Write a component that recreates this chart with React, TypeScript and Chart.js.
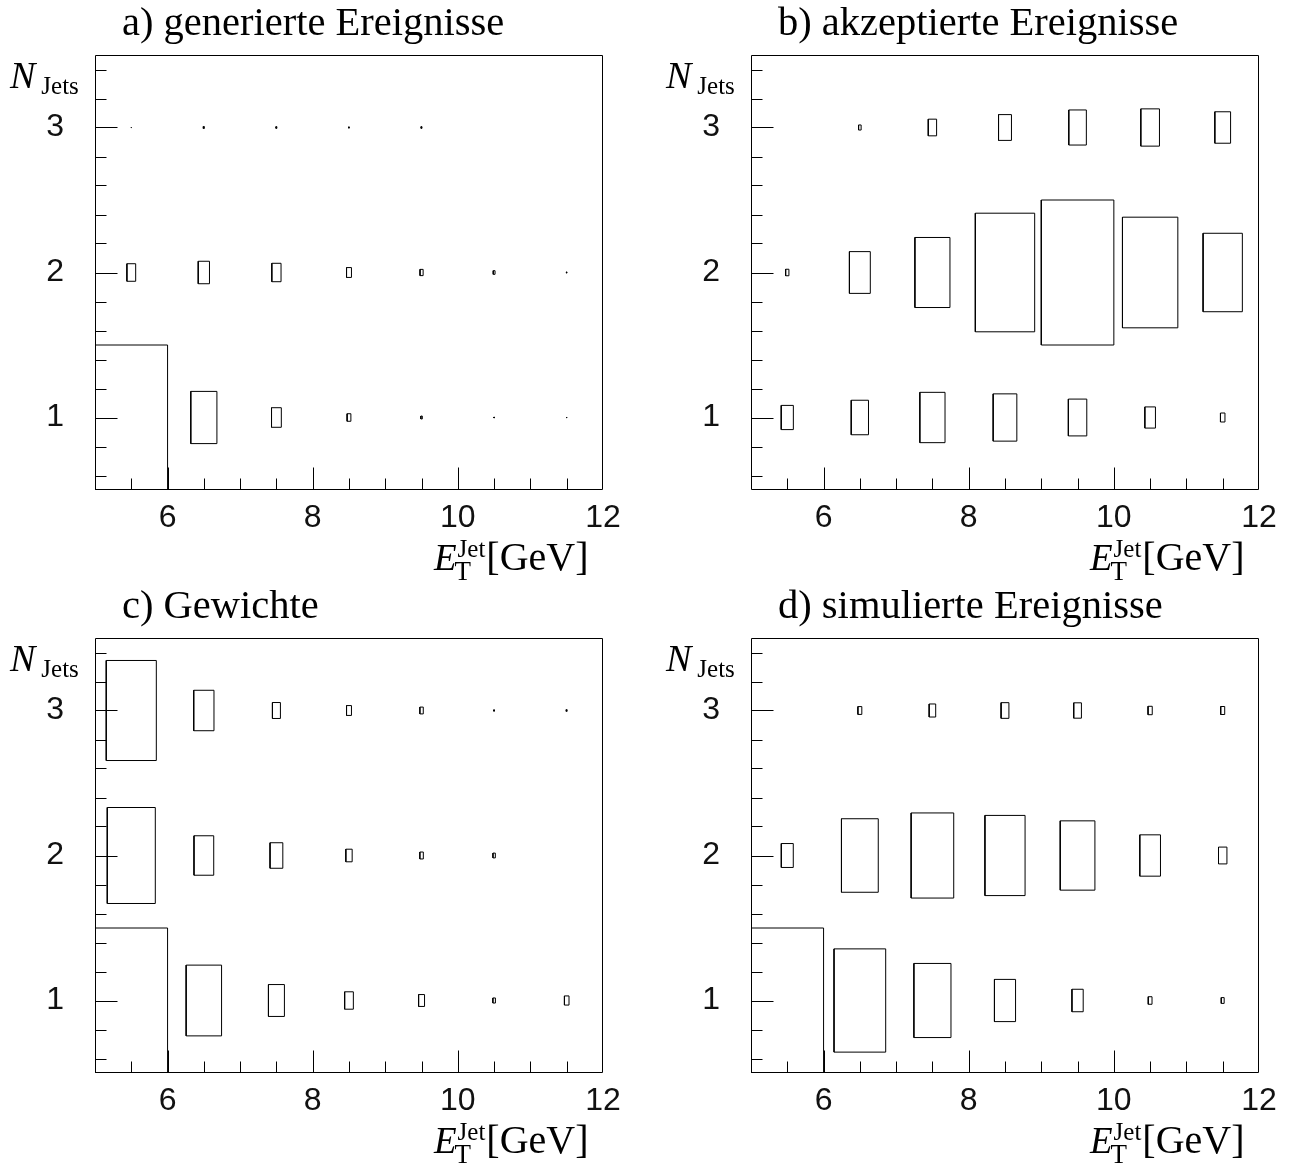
import React, { useEffect, useRef } from "react";
import { Chart, registerables } from "chart.js";

Chart.register(...registerables);

// bin centres
const xCenters = [5.5, 6.5, 7.5, 8.5, 9.5, 10.5, 11.5];
const nJets = [1, 2, 3];
const xMajorTicks = [6, 8, 10, 12];
const yMajorTicks = [1, 2, 3];

// relative box sizes (cell content / maximum) for N_Jets = 1, 2, 3
const genN1 = [1.0, 0.36, 0.135, 0.052, 0.02, 0.007, 0.007];
const genN2 = [0.121, 0.155, 0.127, 0.068, 0.043, 0.025, 0.008];
const genN3 = [0.005, 0.014, 0.012, 0.009, 0.012, 0, 0];

const accN1 = [0.167, 0.238, 0.347, 0.326, 0.254, 0.146, 0.062];
const accN2 = [0.045, 0.288, 0.483, 0.818, 1.0, 0.763, 0.541];
const accN3 = [0, 0.035, 0.115, 0.178, 0.242, 0.257, 0.217];

const wgtN1 = [1.0, 0.488, 0.22, 0.12, 0.082, 0.035, 0.063];
const wgtN2 = [0.662, 0.272, 0.176, 0.087, 0.048, 0.033, 0];
const wgtN3 = [0.69, 0.279, 0.11, 0.068, 0.047, 0.01, 0.012];

const simN1 = [1.0, 0.712, 0.511, 0.291, 0.155, 0.052, 0.04];
const simN2 = [0.165, 0.507, 0.587, 0.553, 0.478, 0.285, 0.116];
const simN3 = [0, 0.054, 0.09, 0.108, 0.106, 0.058, 0.055];

const titles = [
  "a) generierte Ereignisse",
  "b) akzeptierte Ereignisse",
  "c) Gewichte",
  "d) simulierte Ereignisse",
];

const CW = 635;
const CH = 582;
const SERIF = '"Liberation Serif", "Times New Roman", serif';
const SANS = '"Liberation Sans", Arial, sans-serif';

function buildDatasets(rows: number[][]) {
  const ds: any[] = [];
  rows.forEach((vals, ri) => {
    const cy = nJets[ri];
    vals.forEach((f, ci) => {
      if (f <= 0) return;
      const cx = xCenters[ci];
      const h = f / 2;
      ds.push({
        data: [
          { x: cx - h, y: cy - h },
          { x: cx + h, y: cy - h },
          { x: cx + h, y: cy + h },
          { x: cx - h, y: cy + h },
          { x: cx - h, y: cy - h },
        ],
        showLine: true,
        borderColor: "#000",
        borderWidth: 1,
        pointRadius: 0,
        pointHoverRadius: 0,
        fill: false,
        tension: 0,
      });
    });
  });
  return ds;
}

function makeFramePlugin(title: string) {
  return {
    id: "rootFrame",
    afterDraw(chart: any) {
      const ctx = chart.ctx as CanvasRenderingContext2D;
      const a = chart.chartArea;
      const xs = chart.scales.x;
      const ys = chart.scales.y;
      const L = Math.round(a.left) + 0.5;
      const R = Math.round(a.right) - 0.5;
      const T = Math.round(a.top) + 0.5;
      const B = Math.round(a.bottom) - 0.5;
      ctx.save();
      ctx.strokeStyle = "#000";
      ctx.lineWidth = 1;
      ctx.beginPath();
      ctx.rect(L, T, R - L, B - T);
      ctx.stroke();
      // y ticks (inward)
      ctx.beginPath();
      for (let k = 3; k <= 17; k++) {
        const v = k / 5;
        const major = yMajorTicks.some((m) => Math.abs(m - v) < 1e-6);
        const py = Math.round(ys.getPixelForValue(v)) + 0.5;
        ctx.moveTo(L, py);
        ctx.lineTo(L + (major ? 22 : 11), py);
      }
      // x ticks (inward)
      for (let k = 11; k <= 23; k++) {
        const v = k / 2;
        const major = xMajorTicks.some((m) => Math.abs(m - v) < 1e-6);
        const px = Math.round(xs.getPixelForValue(v)) + 0.5;
        ctx.moveTo(px, B);
        ctx.lineTo(px, B - (major ? 22 : 11));
      }
      ctx.stroke();

      ctx.fillStyle = "#000";
      ctx.textAlign = "left";
      ctx.textBaseline = "alphabetic";
      // panel title
      ctx.font = `40.5px ${SERIF}`;
      ctx.fillText(title, a.left + 27, 35);
      // N_Jets
      ctx.font = `italic 38px ${SERIF}`;
      ctx.fillText("N", 10, 88);
      const wN = ctx.measureText("N").width;
      ctx.font = `25px ${SERIF}`;
      ctx.fillText("Jets", 10 + wN + 6, 94);
      // E_T^Jet [GeV]
      const ex = 434;
      ctx.font = `italic 37px ${SERIF}`;
      ctx.fillText("E", ex, 570);
      const wE = ctx.measureText("E").width;
      const sx = ex + wE + 1;
      ctx.font = `25px ${SERIF}`;
      ctx.fillText("Jet", sx, 557);
      const wJ = ctx.measureText("Jet").width;
      ctx.font = `27px ${SERIF}`;
      ctx.fillText("T", sx - 3, 580);
      const wT = ctx.measureText("T").width;
      ctx.font = `40px ${SERIF}`;
      ctx.fillText("[GeV]", Math.max(sx + wJ, sx - 3 + wT) + 1, 570);
      ctx.restore();
    },
  };
}

function BoxPanel({ title, rows, left, top }: { title: string; rows: number[][]; left: number; top: number }) {
  const ref = useRef<HTMLCanvasElement>(null);
  useEffect(() => {
    if (!ref.current) return;
    const chart = new Chart(ref.current, {
      type: "scatter",
      data: { datasets: buildDatasets(rows) },
      options: {
        animation: false,
        responsive: false,
        devicePixelRatio: 1,
        events: [],
        layout: { padding: { left: 0, top: 55, right: 32, bottom: 0 } },
        plugins: { legend: { display: false }, tooltip: { enabled: false }, title: { display: false } },
        scales: {
          x: {
            type: "linear",
            min: 5,
            max: 12,
            grid: { display: false, drawTicks: false },
            border: { display: false },
            afterBuildTicks: (s: any) => {
              s.ticks = xMajorTicks.map((v) => ({ value: v }));
            },
            afterFit: (s: any) => {
              s.height = 92;
            },
            ticks: {
              autoSkip: false,
              maxRotation: 0,
              padding: 9,
              color: "#111",
              font: { family: SANS, size: 32 },
            },
          },
          y: {
            type: "linear",
            min: 0.5,
            max: 3.5,
            grid: { display: false, drawTicks: false },
            border: { display: false },
            afterBuildTicks: (s: any) => {
              s.ticks = yMajorTicks.map((v) => ({ value: v }));
            },
            afterFit: (s: any) => {
              s.width = 95;
            },
            ticks: {
              autoSkip: false,
              padding: 31,
              color: "#111",
              font: { family: SANS, size: 32 },
            },
          },
        },
      } as any,
      plugins: [makeFramePlugin(title)],
    });
    return () => chart.destroy();
  }, [title, rows]);
  return (
    <canvas
      ref={ref}
      width={CW}
      height={CH}
      style={{ position: "absolute", left, top, width: CW, height: CH }}
    />
  );
}

export default function App() {
  return (
    <div style={{ position: "absolute", left: 0, top: 0, width: 1291, height: 1165, background: "#fff", overflow: "hidden" }}>
      <BoxPanel title={titles[0]} rows={[genN1, genN2, genN3]} left={0} top={0} />
      <BoxPanel title={titles[1]} rows={[accN1, accN2, accN3]} left={656} top={0} />
      <BoxPanel title={titles[2]} rows={[wgtN1, wgtN2, wgtN3]} left={0} top={583} />
      <BoxPanel title={titles[3]} rows={[simN1, simN2, simN3]} left={656} top={583} />
    </div>
  );
}
